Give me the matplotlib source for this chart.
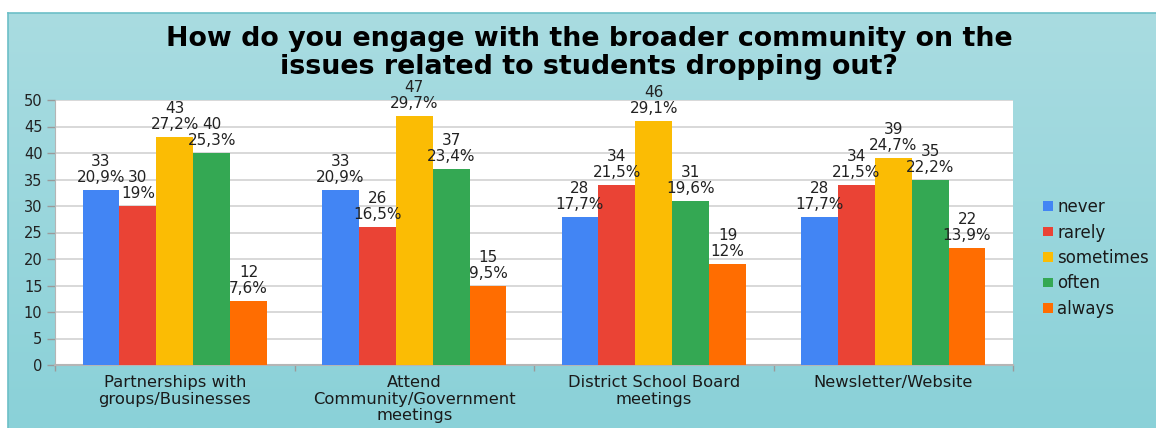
import numpy as np
import matplotlib
matplotlib.use("Agg")
import matplotlib.pyplot as plt
from matplotlib.colors import LinearSegmentedColormap

# ---- data ----
categories = [
    "Partnerships with\ngroups/Businesses",
    "Attend\nCommunity/Government\nmeetings",
    "District School Board\nmeetings",
    "Newsletter/Website",
]
series_names = ["never", "rarely", "sometimes", "often", "always"]
counts = {
    "never":     [33, 33, 28, 28],
    "rarely":    [30, 26, 34, 34],
    "sometimes": [43, 47, 46, 39],
    "often":     [40, 37, 31, 35],
    "always":    [12, 15, 19, 22],
}
percents = {
    "never":     ["20,9%", "20,9%", "17,7%", "17,7%"],
    "rarely":    ["19%", "16,5%", "21,5%", "21,5%"],
    "sometimes": ["27,2%", "29,7%", "29,1%", "24,7%"],
    "often":     ["25,3%", "23,4%", "19,6%", "22,2%"],
    "always":    ["7,6%", "9,5%", "12%", "13,9%"],
}
colors = {
    "never": "#4285f4",
    "rarely": "#ea4335",
    "sometimes": "#fbbc04",
    "often": "#34a853",
    "always": "#ff6d01",
}
y_ticks = [0, 5, 10, 15, 20, 25, 30, 35, 40, 45, 50]
title = ("How do you engage with the broader community on the\n"
         "issues related to students dropping out?")

plt.rcParams["font.family"] = ["DejaVu Sans"]

W, H = 1156, 428
fig = plt.figure(figsize=(W / 100, H / 100), dpi=100)
fig.patch.set_facecolor("white")

# teal gradient backdrop
bg = fig.add_axes([8 / W, 0, 1 - 8 / W, (H - 13) / H], zorder=0)
grad = np.linspace(0, 1, 256).reshape(-1, 1)
cmap = LinearSegmentedColormap.from_list("bgteal", ["#a9dce1", "#8ad1d8"])
bg.imshow(grad, aspect="auto", cmap=cmap, extent=[0, 1, 0, 1], origin="upper")
bg.set_xlim(0, 1)
bg.set_ylim(0, 1)
bg.set_xticks([])
bg.set_yticks([])
for side in ["right", "bottom"]:
    bg.spines[side].set_visible(False)
for side in ["top", "left"]:
    bg.spines[side].set_color("#6cbfc7")
    bg.spines[side].set_linewidth(1.2)

ax = fig.add_axes([55 / W, (H - 365) / H, (1013 - 55) / W, (365 - 100) / H], zorder=1)
ax.set_facecolor("white")

n_groups = len(categories)
n_series = len(series_names)
x = np.arange(n_groups)
bar_w = 0.77 / n_series

px = 72 / 100  # points per pixel
for i, name in enumerate(series_names):
    offs = (i - (n_series - 1) / 2) * bar_w
    vals = counts[name]
    bars = ax.bar(x + offs, vals, width=bar_w, color=colors[name], label=name,
                  zorder=3, linewidth=0)
    for b, v, p in zip(bars, vals, percents[name]):
        cx = b.get_x() + b.get_width() / 2
        ax.annotate(p, (cx, v), xytext=(0, 8 * px), textcoords="offset points",
                    ha="center", va="baseline", fontsize=11, color="#222222",
                    zorder=4, annotation_clip=False)
        ax.annotate(str(v), (cx, v), xytext=(0, 24 * px), textcoords="offset points",
                    ha="center", va="baseline", fontsize=11, color="#222222",
                    zorder=4, annotation_clip=False)

ax.set_ylim(0, 50)
ax.set_xlim(-0.5, n_groups - 0.5)
ax.set_yticks(y_ticks)
ax.set_yticklabels([str(t) for t in y_ticks], fontsize=10.5, color="#222222")
ax.yaxis.grid(True, color="#d6d6d6", linewidth=1.3, zorder=0)
ax.set_axisbelow(True)

ax.set_xticks(x)
ax.set_xticklabels(categories, fontsize=11.8, color="#1a1a1a", linespacing=1.15)
ax.tick_params(axis="x", length=0, pad=7)
ax.set_xticks(np.arange(-0.5, n_groups, 1.0), minor=True)
ax.tick_params(axis="x", which="minor", length=4, color="#9a9a9a", width=1)
ax.tick_params(axis="y", length=6, color="#9a9a9a", width=1, pad=3)

for side in ["top", "right"]:
    ax.spines[side].set_visible(False)
ax.spines["left"].set_color("#b5b5b5")
ax.spines["bottom"].set_color("#b5b5b5")
ax.spines["bottom"].set_linewidth(1.5)

fig.text(589 / W, 1 - 53 / H, title, ha="center", va="center",
         fontsize=19.4, fontweight="bold", color="black", linespacing=1.08)

leg = fig.legend(loc="center left", bbox_to_anchor=(1035 / W, 1 - 258 / H),
                 frameon=False, fontsize=12, handlelength=0.6, handleheight=0.5,
                 handletextpad=0.25, labelspacing=0.45, borderpad=0)
for t in leg.get_texts():
    t.set_color("#1a1a1a")

fig.savefig("out.png", dpi=100)
